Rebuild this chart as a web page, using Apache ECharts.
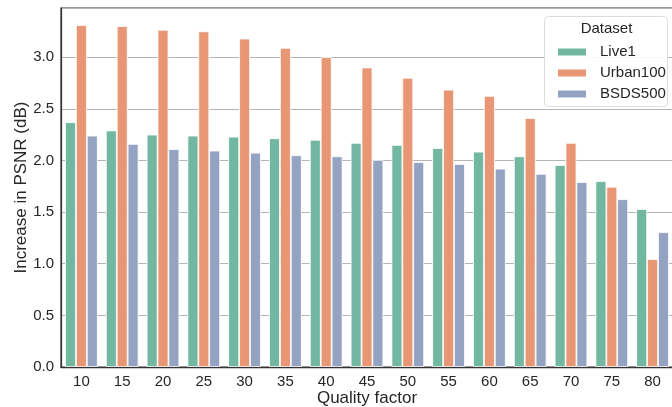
<!DOCTYPE html>
<html>
<head>
<meta charset="utf-8">
<script src="https://cdn.jsdelivr.net/npm/echarts@6/dist/echarts.min.js"></script>
<style>
html,body{margin:0;padding:0;background:#fff;}
#chart{width:672px;height:407px;}
</style>
</head>
<body>
<div id="chart"></div>
<script>
const categories = ["10","15","20","25","30","35","40","45","50","55","60","65","70","75","80"];
const live1 =    [2.37, 2.29, 2.25, 2.24, 2.23, 2.215, 2.20, 2.17, 2.15, 2.12, 2.085, 2.04, 1.955, 1.80, 1.53];
const urban100 = [3.31, 3.30, 3.265, 3.25, 3.18, 3.09, 3.00, 2.90, 2.80, 2.685, 2.625, 2.41, 2.17, 1.745, 1.045];
const bsds500 =  [2.24, 2.16, 2.11, 2.095, 2.075, 2.05, 2.04, 2.005, 1.985, 1.965, 1.92, 1.87, 1.79, 1.625, 1.305];
const seriesNames = ["Live1", "Urban100", "BSDS500"];
const yTicks = [0, 0.5, 1.0, 1.5, 2.0, 2.5, 3.0];

const colors = ["#72b7a1", "#e99675", "#95a3c3"];
const font = "'Liberation Sans', Arial, sans-serif";
const textColor = "#262626";

const chart = echarts.init(document.getElementById('chart'), null, {renderer: 'canvas'});
const dataSets = [live1, urban100, bsds500];
const option = {
  animation: false,
  textStyle: {fontFamily: font},
  grid: {left: 61, top: 8, width: 612, height: 359, show: true, borderColor: '#333', borderWidth: 1.25, backgroundColor: 'transparent', containLabel: false, outerBoundsMode: 'none'},
  xAxis: {
    type: 'category',
    data: categories,
    z: 5,
    axisLine: {show: true, lineStyle: {color: '#333', width: 1.25}},
    axisTick: {show: false},
    axisLabel: {color: textColor, fontSize: 15, margin: 7, fontFamily: font},
    name: 'Quality factor',
    nameLocation: 'middle',
    nameMoveOverlap: false,
    nameGap: 23,
    nameTextStyle: {color: textColor, fontSize: 17, fontFamily: font},
    splitLine: {show: false}
  },
  yAxis: {
    type: 'value',
    min: 0,
    max: 3.476,
    interval: 0.5,
    axisLine: {show: true, lineStyle: {color: '#333', width: 1.25}},
    axisTick: {show: false},
    axisLabel: {
      color: textColor, fontSize: 15, margin: 7, fontFamily: font,
      showMaxLabel: false,
      formatter: function (v) {
        for (const t of yTicks) { if (Math.abs(t - v) < 1e-6) return t.toFixed(1); }
        return '';
      }
    },
    splitLine: {show: true, lineStyle: {color: '#b5b5b5', width: 1}},
    name: 'Increase in PSNR (dB)',
    nameLocation: 'middle',
    nameMoveOverlap: false,
    nameGap: 31,
    nameTextStyle: {color: textColor, fontSize: 17, fontFamily: font}
  },
  legend: {
    orient: 'vertical',
    left: 551,
    top: 39,
    itemWidth: 30,
    itemHeight: 9,
    itemGap: 5,
    icon: 'rect',
    z: 10,
    data: seriesNames,
    textStyle: {color: textColor, fontSize: 15, lineHeight: 16, fontFamily: font, padding: [0, 0, 0, 8]}
  },
  graphic: [
    {type: 'rect', z: 5, shape: {x: 544.5, y: 16.5, width: 123, height: 90, r: 4}, style: {fill: 'rgba(255,255,255,0.9)', stroke: '#dcdcdc', lineWidth: 1}},
    {type: 'text', z: 6, x: 606.5, y: 28.5, style: {text: 'Dataset', fill: textColor, font: '15px ' + font, textAlign: 'center', textVerticalAlign: 'middle'}}
  ],
  series: seriesNames.map((n, i) => ({
    name: n,
    type: 'bar',
    data: dataSets[i],
    barGap: '0%',
    barCategoryGap: '20%',
    itemStyle: {color: colors[i], borderColor: '#ffffff', borderWidth: 0.8}
  }))
};
chart.setOption(option);
</script>
</body>
</html>
